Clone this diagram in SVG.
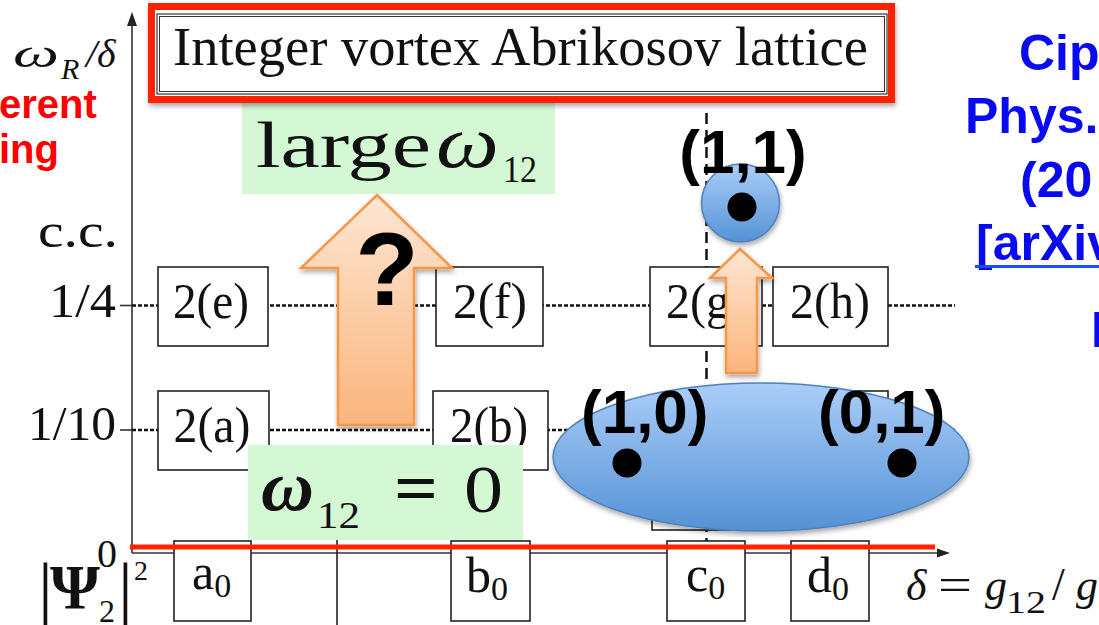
<svg xmlns="http://www.w3.org/2000/svg" width="1099" height="625" viewBox="0 0 1099 625">
<defs>
<style>
.serif{font-family:"Liberation Serif","DejaVu Serif",serif;fill:#111}
.box{fill:#fff;stroke:#222;stroke-width:1.6}
.lbl{font-family:"Liberation Serif","DejaVu Serif",serif;font-size:50px;fill:#111;text-anchor:middle}
.sub{font-family:"Liberation Serif","DejaVu Serif",serif;font-size:50px;fill:#111}
.dot{stroke:#111;stroke-width:2.5;stroke-dasharray:4 2;fill:none}
.axis{stroke:#333;stroke-width:1.6;fill:none}
.bsans{font-family:"Liberation Sans",Arial,sans-serif;font-weight:bold;fill:#000}
.blue{font-family:"Liberation Sans",Arial,sans-serif;font-weight:bold;font-size:50px;fill:#0a0af0}
.red{font-family:"Liberation Sans",Arial,sans-serif;font-weight:bold;font-size:40px;fill:#ff0000}
.green{fill:#d3f8d3}
.arrow{stroke:#f79646;stroke-width:2.5;fill:url(#og);stroke-linejoin:miter}
.ell{fill:url(#bg);stroke:#4f81bd;stroke-width:1.5}
</style>
<linearGradient id="og" x1="0" y1="0" x2="0" y2="1">
<stop offset="0" stop-color="#fde6d3"/><stop offset="1" stop-color="#fbb57c"/>
</linearGradient>
<linearGradient id="bg" x1="0" y1="0" x2="0" y2="1">
<stop offset="0" stop-color="#aacdf8"/><stop offset="1" stop-color="#5592d6"/>
</linearGradient>
<filter id="sh" x="-20%" y="-20%" width="140%" height="150%">
<feDropShadow dx="1" dy="3" stdDeviation="2.5" flood-color="#000" flood-opacity="0.35"/>
</filter>
</defs>

<!-- connectors: axes, level lines -->
<g id="connectors">
<line class="axis" x1="132" y1="20" x2="132" y2="553"/>
<polygon points="132,12 127,26 137,26" fill="#222"/>
<line class="axis" x1="132" y1="553" x2="940" y2="553"/>
<polygon points="950,553 937,548.5 937,557.5" fill="#222"/>
<line class="axis" x1="120" y1="305.5" x2="132" y2="305.5"/>
<line class="axis" x1="120" y1="430" x2="132" y2="430"/>
<line class="dot" x1="132" y1="305.5" x2="955" y2="305.5"/>
<line class="dot" x1="132" y1="430" x2="955" y2="430"/>
<line x1="706.5" y1="113" x2="706.5" y2="545" stroke="#111" stroke-width="2.5" stroke-dasharray="11 6"/>
<line x1="337" y1="539" x2="337" y2="625" stroke="#222" stroke-width="1.6"/>
</g>

<!-- axis labels -->
<g id="axis-labels">
<text class="serif" x="13" y="67" font-size="40" font-style="italic" textLength="46" lengthAdjust="spacingAndGlyphs" fill="#1a1a40">ω</text>
<text class="serif" x="61" y="79" font-size="30" font-style="italic">R</text>
<text class="serif" x="86" y="67" font-size="40" font-style="italic">/δ</text>
<text class="serif" x="116" y="317" font-size="48" text-anchor="end" textLength="67" lengthAdjust="spacingAndGlyphs">1/4</text>
<text class="serif" x="116" y="440" font-size="48" text-anchor="end" textLength="88" lengthAdjust="spacingAndGlyphs">1/10</text>
<text class="serif" x="117" y="567" font-size="40" text-anchor="end">0</text>
<text class="serif" x="38" y="247" font-size="48" textLength="80" lengthAdjust="spacingAndGlyphs">c.c.</text>
<text class="serif" x="38" y="614" font-size="74">|</text>
<text class="serif" x="50" y="609" font-size="64" font-weight="bold">Ψ</text>
<text class="serif" x="99" y="622" font-size="32">2</text>
<text class="serif" x="118" y="614" font-size="74">|</text>
<text class="serif" x="134" y="580" font-size="28">2</text>
<text class="serif" x="906" y="600" font-size="44" font-style="italic">δ</text>
<text class="serif" x="938" y="600" font-size="46" textLength="34" lengthAdjust="spacingAndGlyphs">=</text>
<text class="serif" x="985" y="600" font-size="44" font-style="italic">g</text>
<text class="serif" x="1006" y="613" font-size="32" textLength="40" lengthAdjust="spacingAndGlyphs">12</text>
<text class="serif" x="1052" y="600" font-size="46">/</text>
<text class="serif" x="1076" y="600" font-size="44" font-style="italic">g</text>
</g>

<!-- side texts -->
<g id="side-text">
<text class="red" x="-1" y="118">erent</text>
<text class="red" x="-1" y="163">ing</text>
<text class="blue" x="1019" y="70">Cip</text>
<text class="blue" x="965" y="133">Phys.</text>
<text class="blue" x="1020" y="197">(20</text>
<text class="blue" x="976" y="260">[arXiv</text>
<rect x="975" y="265" width="124" height="3" fill="#1a4cff"/>
<text class="blue" x="1091" y="347">I</text>
</g>

<!-- state boxes -->
<g id="box-2e"><rect class="box" x="158" y="267" width="110" height="79"/><text class="lbl" x="211" y="318" textLength="76" lengthAdjust="spacingAndGlyphs">2(e)</text></g>
<g id="box-2f"><rect class="box" x="436" y="267" width="107" height="79"/><text class="lbl" x="490" y="318" textLength="74" lengthAdjust="spacingAndGlyphs">2(f)</text></g>
<g id="box-2g"><rect class="box" x="650" y="267" width="112" height="79"/><text class="lbl" x="706" y="318" textLength="80" lengthAdjust="spacingAndGlyphs">2(g)</text></g>
<g id="box-2h"><rect class="box" x="773" y="267" width="115" height="79"/><text class="lbl" x="830" y="318" textLength="80" lengthAdjust="spacingAndGlyphs">2(h)</text></g>
<g id="box-2a"><rect class="box" x="158" y="391" width="111" height="79"/><text class="lbl" x="212" y="442" textLength="77" lengthAdjust="spacingAndGlyphs">2(a)</text></g>
<g id="box-2b"><rect class="box" x="433" y="391" width="115" height="79"/><text class="lbl" x="489" y="442" textLength="78" lengthAdjust="spacingAndGlyphs">2(b)</text></g>
<g id="box-2d"><rect class="box" x="773" y="391" width="115" height="79"/></g>
<g id="box-2c"><rect class="box" x="652" y="452" width="110" height="78"/></g>
<g id="box-a0"><rect class="box" x="174" y="541" width="77" height="80"/><text class="sub" x="192" y="589">a<tspan font-size="34" dy="8">0</tspan></text></g>
<g id="box-b0"><rect class="box" x="451" y="541" width="79" height="80"/><text class="sub" x="466" y="592">b<tspan font-size="34" dy="8">0</tspan></text></g>
<g id="box-c0"><rect class="box" x="667" y="541" width="78" height="80"/><text class="sub" x="686" y="591">c<tspan font-size="34" dy="8">0</tspan></text></g>
<g id="box-d0"><rect class="box" x="791" y="541" width="78" height="80"/><text class="sub" x="807" y="592">d<tspan font-size="34" dy="8">0</tspan></text></g>

<!-- green labels -->
<g id="label-large">
<rect class="green" x="242" y="100" width="313" height="94"/>
<text class="serif" x="256" y="167" font-size="66" textLength="175" lengthAdjust="spacingAndGlyphs">large</text>
<text class="serif" x="436" y="167" font-size="74" font-style="italic" textLength="63" lengthAdjust="spacingAndGlyphs">ω</text>
<text class="serif" x="503" y="182" font-size="38" textLength="34" lengthAdjust="spacingAndGlyphs">12</text>
</g>
<g id="label-zero">
<rect class="green" x="248" y="445" width="275" height="95"/>
<text class="serif" x="261" y="510" font-size="72" font-style="italic" font-weight="bold" textLength="53" lengthAdjust="spacingAndGlyphs">ω</text>
<text class="serif" x="317" y="528" font-size="38" textLength="43" lengthAdjust="spacingAndGlyphs">12</text>
<text class="serif" x="394" y="512" font-size="72" font-weight="bold" textLength="44" lengthAdjust="spacingAndGlyphs">=</text>
<text class="serif" x="464" y="512" font-size="68" textLength="39" lengthAdjust="spacingAndGlyphs">0</text>
</g>

<!-- arrows -->
<g id="arrow-big" filter="url(#sh)">
<polygon class="arrow" points="377,195 452,268 414,268 414,425 338,425 338,268 301,268"/>
</g>
<text class="bsans" x="387" y="305" font-size="104" text-anchor="middle">?</text>
<g id="arrow-small" filter="url(#sh)">
<polygon class="arrow" points="740,249 772,278 757,278 757,373 726,373 726,278 710,278"/>
</g>

<!-- states -->
<g id="state-11">
<circle class="ell" cx="740.5" cy="203" r="39" filter="url(#sh)"/>
<circle cx="742" cy="207" r="14.5" fill="#000"/>
<text class="bsans" x="743" y="173" font-size="62" text-anchor="middle">(1,1)</text>
</g>
<g id="state-10-01">
<ellipse class="ell" cx="761" cy="457" rx="208" ry="74" filter="url(#sh)"/>
<circle cx="627" cy="463" r="14.5" fill="#000"/>
<circle cx="902" cy="463" r="14.5" fill="#000"/>
<text class="bsans" x="581" y="433" font-size="62">(1,0)</text>
<text class="bsans" x="818" y="433" font-size="62">(0,1)</text>
</g>

<!-- red zero line -->
<line x1="130" y1="547" x2="935" y2="547" stroke="#ff2200" stroke-width="5"/>

<!-- title -->
<g id="title">
<rect x="151.5" y="6.5" width="740" height="93" fill="#fff" stroke="#ff2200" stroke-width="7" filter="url(#sh)"/>
<rect x="157" y="14" width="730" height="80" fill="none" stroke="#333" stroke-width="1.2"/>
<rect x="159.5" y="16.5" width="725" height="75" fill="none" stroke="#333" stroke-width="1"/>
<text class="serif" x="173" y="65" font-size="54" textLength="695" lengthAdjust="spacingAndGlyphs">Integer vortex Abrikosov lattice</text>
</g>
</svg>
